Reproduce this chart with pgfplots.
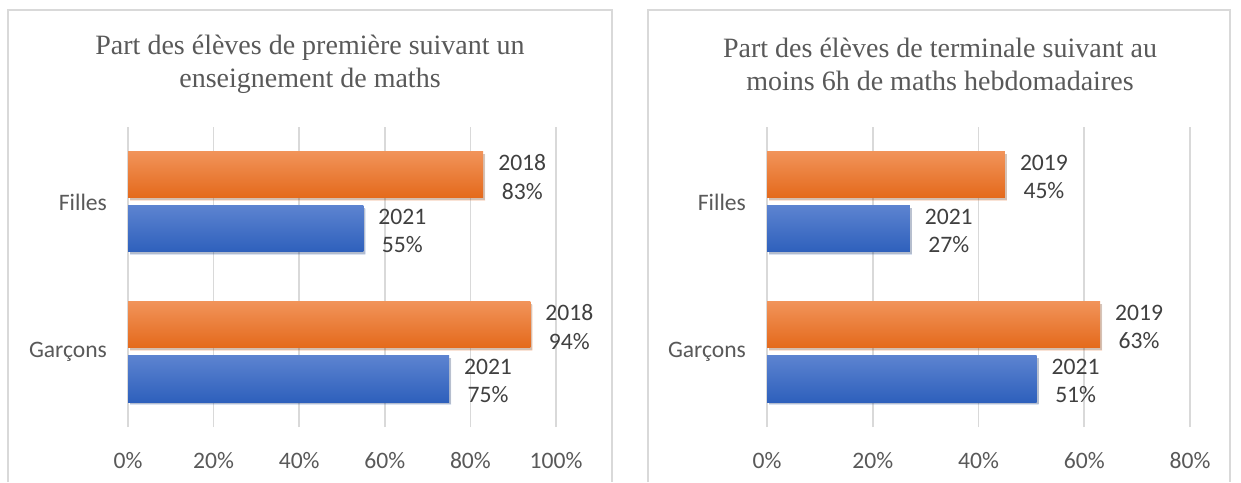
\documentclass[border=0pt]{standalone}
\usepackage{pgfplots}
\pgfplotsset{compat=1.18}
\usepackage{fontspec}
\setmainfont{Carlito}
\newfontfamily\titlefont{Liberation Serif}
\usetikzlibrary{shadows}
\definecolor{txt}{HTML}{595959}
\definecolor{lbl}{HTML}{404040}
\definecolor{gridc}{HTML}{D9D9D9}
\definecolor{boxc}{HTML}{D9D9D9}
\definecolor{oTop}{HTML}{F19359}
\definecolor{oMid}{HTML}{F37E31}
\definecolor{oBot}{HTML}{E4691B}
\definecolor{bTop}{HTML}{5C83D0}
\definecolor{bMid}{HTML}{4271CB}
\definecolor{bBot}{HTML}{2E60BC}

\pgfplotsset{
  mybars/.style={
    xbar, scale only axis, height=150pt,
    ymin=-0.5, ymax=1.5, ytick={0,1}, yticklabels={Garçons,Filles},
    xmin=0,
    axis line style={draw=none}, major tick length=0pt,
    xmajorgrids, grid style={gridc, line width=0.8pt},
    tick label style={font=\fontsize{11.8}{14}\selectfont, text=txt},
    xticklabel={\pgfmathprintnumber{\tick}\%},
    /pgf/number format/assume math mode=true,
    xticklabel style={yshift=-9pt},
    yticklabel style={xshift=-7pt},
    bar width=23pt,
    point meta=x,
    nodes near coords align={horizontal},
    every node near coord/.append style={align=center, font=\fontsize{11.8}{14.3}\selectfont, text=lbl, xshift=4pt, yshift=-1pt},
    clip=false,
  },
  orangebar/.style={draw=none, top color=oTop, middle color=oMid, bottom color=oBot, bar shift=13.5pt,
    drop shadow={shadow xshift=1pt, shadow yshift=-1.2pt, fill=black, opacity=0.18}},
  bluebar/.style={draw=none, top color=bTop, middle color=bMid, bottom color=bBot, bar shift=-13.5pt,
    drop shadow={shadow xshift=1pt, shadow yshift=-1.2pt, fill=black, opacity=0.18}},
}

\begin{document}
\begin{tikzpicture}
\begin{scope}[x=0.5pt, y=0.5pt]
\path[use as bounding box] (0,0) rectangle (1241,482);
\fill[white] (0,0) rectangle (1241,482);
\draw[boxc, line width=0.8pt] (8,0) -- (8,472) -- (612,472) -- (612,0);
\draw[boxc, line width=0.8pt] (648,0) -- (648,472) -- (1230,472) -- (1230,0);

\node[align=center, text=txt, font=\titlefont\fontsize{14}{16.5}\selectfont] at (310,418)
  {Part des élèves de première suivant un\\enseignement de maths};
\node[align=center, text=txt, font=\titlefont\fontsize{14}{16.5}\selectfont] at (940,418)
  {Part des élèves de terminale suivant au\\moins 6h de maths hebdomadaires};
\end{scope}

\begin{axis}[mybars, at={(64pt,27.5pt)}, anchor=south west, width=214pt,
  xmax=100, xtick={0,20,40,60,80,100}]
% Filles
\addplot[orangebar, nodes near coords={2018\\\pgfmathprintnumber{\pgfplotspointmeta}\%}]
  coordinates {(83,1)};
\addplot[bluebar, nodes near coords={2021\\\pgfmathprintnumber{\pgfplotspointmeta}\%}]
  coordinates {(55,1)};
% Garçons
\addplot[orangebar, nodes near coords={2018\\\pgfmathprintnumber{\pgfplotspointmeta}\%}]
  coordinates {(94,0)};
\addplot[bluebar, nodes near coords={2021\\\pgfmathprintnumber{\pgfplotspointmeta}\%}]
  coordinates {(75,0)};
\end{axis}

\begin{axis}[mybars, at={(383.5pt,27.5pt)}, anchor=south west, width=211.5pt,
  xmax=80, xtick={0,20,40,60,80}]
% Filles
\addplot[orangebar, nodes near coords={2019\\\pgfmathprintnumber{\pgfplotspointmeta}\%}]
  coordinates {(45,1)};
\addplot[bluebar, nodes near coords={2021\\\pgfmathprintnumber{\pgfplotspointmeta}\%}]
  coordinates {(27,1)};
% Garçons
\addplot[orangebar, nodes near coords={2019\\\pgfmathprintnumber{\pgfplotspointmeta}\%}]
  coordinates {(63,0)};
\addplot[bluebar, nodes near coords={2021\\\pgfmathprintnumber{\pgfplotspointmeta}\%}]
  coordinates {(51,0)};
\end{axis}
\end{tikzpicture}
\end{document}
